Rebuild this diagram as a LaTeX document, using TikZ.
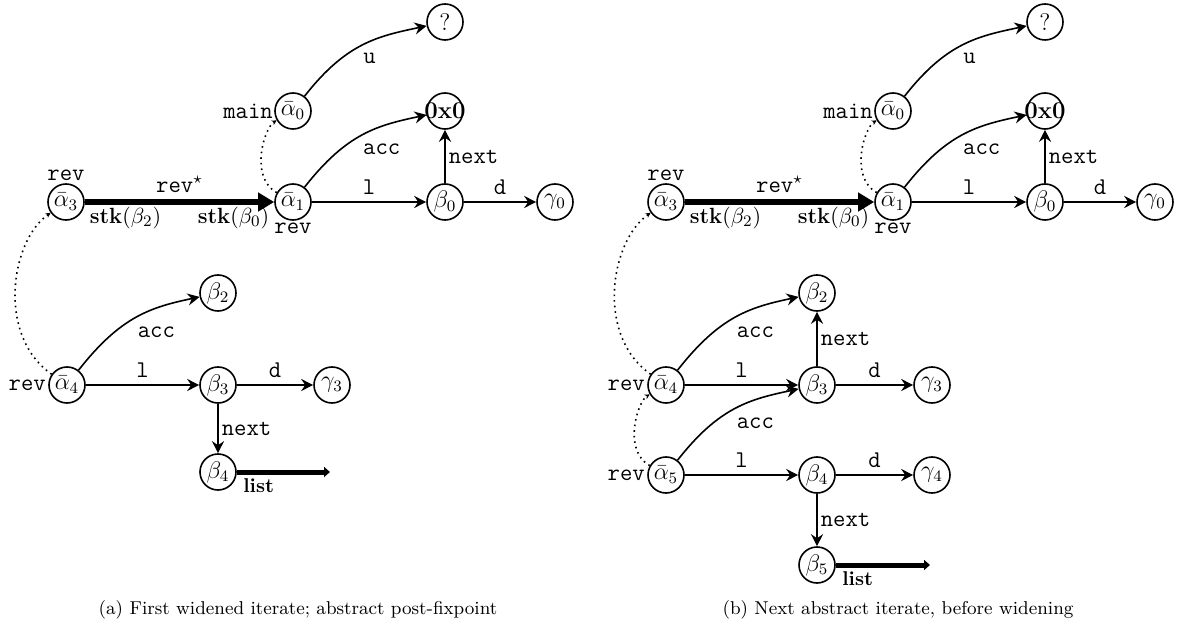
\documentclass[tikz,border=0pt]{standalone}
\usepackage{amsmath,amssymb}
\usetikzlibrary{arrows.meta}

\begin{document}
\begin{tikzpicture}[x=0.5pt,y=0.5pt,>={Stealth[length=6pt,width=6pt,inset=2pt]},
  n/.style={circle,draw,thick,inner sep=0,minimum size=18pt,font=\large},
  e/.style={->,thick},
  c/.style={->,thick,out=52,in=192,looseness=1.1},
  p/.style={-{Stealth[length=2.5pt,width=2.5pt]},dotted,thick},
  w/.style={-{Triangle[length=8pt,width=9pt]},line width=3pt},
  lst/.style={-{Triangle[length=3pt,width=5pt]},line width=2.5pt},
  t/.style={font=\large\ttfamily},
  s/.style={font=\fontsize{11}{13}\selectfont,inner sep=1pt}]
\useasboundingbox (0,0) rectangle (1178,633);
% common upper part of both iterates
\foreach \p/\dx in {a/0,b/600} {
  \begin{scope}[shift={(\dx,0)},name prefix=\p-]
  \node[n] (q) at (445,611) {?};
  \node[n,label={[t,inner sep=0.5pt]left:main}] (a0) at (293,522) {$\bar\alpha_0$};
  \node[n] (z) at (445,522) {\makebox[0pt]{\textbf{0x0}}};
  \node[n,label={[t,inner sep=1pt]below:rev}] (a1) at (293,431) {$\bar\alpha_1$};
  \node[n] (b0) at (445,431) {$\beta_0$};
  \node[n] (g0) at (555,431) {$\gamma_0$};
  \node[n,label={[t,inner sep=1pt]above:rev}] (a3) at (66,431) {$\bar\alpha_3$};
  \draw[c] (a0) to node[t,pos=0.45,below right,inner sep=2.5pt]{u} (q);
  \draw[c] (a1) to node[t,pos=0.45,below right,inner sep=2.5pt]{acc} (z);
  \draw[e] (a1) -- node[t,above]{l} (b0);
  \draw[e] (b0) -- node[t,right,inner sep=1.5pt]{next} (z);
  \draw[e] (b0) -- node[t,above]{d} (g0);
  \draw[w] (a3) -- node[t,above]{rev$^\star$}
    node[s,at start,below right]{$\textbf{stk}(\beta_2)$}
    node[s,at end,below left]{$\textbf{stk}(\beta_0)$} (a1);
  \draw[p] (a1) to[out=150,in=210] (a0);
  \end{scope}
}
% (a) first widened iterate
\begin{scope}[name prefix=a-]
\node[n,label={[t,inner sep=1pt]left:rev}] (a4) at (67,248) {$\bar\alpha_4$};
\node[n] (b2) at (218,340) {$\beta_2$};
\node[n] (b3) at (218,248) {$\beta_3$};
\node[n] (g3) at (332,248) {$\gamma_3$};
\node[n] (b4) at (218,161) {$\beta_4$};
\coordinate (e4) at (330,161);
\draw[c] (a4) to node[t,pos=0.45,below right,inner sep=3pt]{acc} (b2);
\draw[e] (a4) -- node[t,above]{l} (b3);
\draw[e] (b3) -- node[t,above]{d} (g3);
\draw[e] (b3) -- node[t,right,inner sep=1.5pt]{next} (b4);
\draw[lst] (b4) -- node[at start,below right,inner sep=2pt,font=\bfseries]{list} (e4);
\draw[p] (a4) to[out=145,in=215] (a3);
\end{scope}
% (b) next iterate
\begin{scope}[shift={(600,0)},name prefix=b-]
\node[n,label={[t,inner sep=1pt]left:rev}] (a4) at (66,248) {$\bar\alpha_4$};
\node[n,label={[t,inner sep=1pt]left:rev}] (a5) at (66,158) {$\bar\alpha_5$};
\node[n] (b2) at (217,340) {$\beta_2$};
\node[n] (b3) at (217,248) {$\beta_3$};
\node[n] (g3) at (332,248) {$\gamma_3$};
\node[n] (b4) at (217,158) {$\beta_4$};
\node[n] (g4) at (332,158) {$\gamma_4$};
\node[n] (b5) at (217,68) {$\beta_5$};
\coordinate (e5) at (330,68);
\draw[c] (a4) to node[t,pos=0.45,below right,inner sep=3pt]{acc} (b2);
\draw[e] (a4) -- node[t,above]{l} (b3);
\draw[e] (b3) -- node[t,above]{d} (g3);
\draw[e] (b3) -- node[t,right,inner sep=1.5pt]{next} (b2);
\draw[c] (a5) to node[t,pos=0.45,below right,inner sep=3pt]{acc} (b3);
\draw[e] (a5) -- node[t,above]{l} (b4);
\draw[e] (b4) -- node[t,above]{d} (g4);
\draw[e] (b4) -- node[t,right,inner sep=1.5pt]{next} (b5);
\draw[lst] (b5) -- node[at start,below right,inner sep=2pt,font=\bfseries]{list} (e5);
\draw[p] (a4) to[out=145,in=215] (a3);
\draw[p] (a5) to[out=150,in=210] (a4);
\end{scope}
\begin{scope}[font=\fontsize{9.3}{11}\selectfont]
\node (capa) at (298,23) {(a) First widened iterate; abstract post-fixpoint};
\node (capb) at (898,23) {(b) Next abstract iterate, before widening};
\end{scope}
\end{tikzpicture}
\end{document}
